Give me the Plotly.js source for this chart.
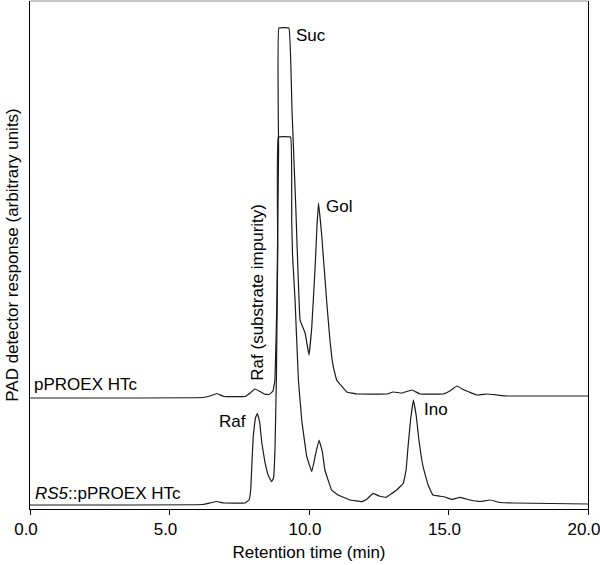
<!DOCTYPE html>
<html>
<head>
<meta charset="utf-8">
<script src="https://cdn.plot.ly/plotly-3.0.1.min.js"></script>
<style>
  html, body { margin: 0; padding: 0; background: #fff; }
  #chromChart { width: 600px; height: 565px; }
</style>
</head>
<body>
<div id="chromChart"></div>
<script>
// pPROEX HTc (empty vector control), response
const ctrlTime = [0, 6.20, 6.45, 6.70, 6.95, 7.71, 7.89, 8.06, 8.21, 8.39, 8.57, 8.71, 8.78, 8.85, 8.91, 8.92,
    9.28, 9.39, 9.53, 9.68, 9.86, 10.00, 10.10, 10.22, 10.28, 10.34, 10.45, 10.63, 10.75, 10.87, 10.99,
    11.36, 11.72, 12.80, 13.01, 13.33, 13.69, 13.98, 14.80, 15.05, 15.30, 15.56, 16.02, 16.38, 16.74, 17.10, 20.0];
const ctrlResp = [21.85, 21.95, 22.24, 22.74, 22.15, 22.15, 22.83, 23.62, 23.23, 22.64, 22.54, 23.23, 25.39, 41.14, 70.67, 94.69,
    94.69, 78.54, 58.86, 37.20, 34.65, 30.31, 35.89, 47.70, 54.92, 60.24, 54.27, 41.14, 33.27, 28.01, 25.39,
    23.03, 22.64, 22.64, 23.03, 22.83, 23.43, 22.64, 22.64, 23.23, 24.21, 23.43, 22.44, 22.64, 22.44, 22.24, 22.24];

// RS5::pPROEX HTc
const rs5Time = [0, 6.20, 6.45, 6.70, 6.95, 7.71, 7.85, 7.91, 7.96, 8.00, 8.08, 8.15, 8.23, 8.31, 8.42, 8.55, 8.66, 8.73,
    8.78, 8.83, 8.88, 8.90, 9.34, 9.38, 9.41, 9.50, 9.62, 9.74, 9.92, 10.10, 10.23, 10.36, 10.48, 10.57, 10.81,
    11.04, 11.47, 11.89, 12.08, 12.30, 12.51, 12.76, 13.14, 13.38, 13.48, 13.55, 13.64, 13.74, 13.84, 13.94,
    14.09, 14.27, 14.44, 14.87, 15.13, 15.41, 15.77, 16.13, 16.49, 16.85, 17.31, 20.0];
const rs5Resp = [0.79, 0.89, 1.18, 1.48, 1.18, 1.18, 1.77, 3.74, 9.65, 14.23, 17.91, 18.84, 17.13, 12.99, 9.25, 6.50, 5.37, 6.10,
    11.61, 25.39, 50.98, 73.23, 73.23, 56.89, 50.0, 41.14, 25.39, 17.52, 10.30, 7.34, 10.63, 13.58, 11.22, 7.68, 3.74,
    2.76, 1.77, 1.44, 1.97, 3.09, 2.56, 2.30, 3.74, 5.06, 7.68, 12.26, 17.52, 21.46, 18.50, 13.58,
    8.27, 4.72, 2.76, 2.36, 1.87, 2.30, 1.77, 1.48, 1.77, 1.28, 1.18, 0.98];

const xTicks = [0, 5, 10, 15, 20];

const FONT = 'Liberation Sans, Arial, sans-serif';
const lineStyle = { color: '#1a1a1a', width: 1.2, shape: 'spline', smoothing: 0.2 };

let traces = [
    { x: ctrlTime, y: ctrlResp, name: 'pPROEX HTc', type: 'scatter', mode: 'lines', line: lineStyle },
    { x: rs5Time, y: rs5Resp, name: 'RS5::pPROEX HTc', type: 'scatter', mode: 'lines', line: lineStyle }
];

function label(text, x, y, anchor, angle) {
    return {
        x: x, y: y, text: text, showarrow: false,
        xanchor: anchor, yanchor: 'middle', textangle: angle || 0,
        font: { family: FONT, size: 17, color: '#000' }
    };
}

let annotations = [
    label('Suc', 9.47, 93.3, 'left'),
    label('Gol', 10.52, 59.6, 'left'),
    label('Ino', 14.04, 19.6, 'left'),
    label('Raf', 7.80, 17.3, 'right'),
    label('Raf (substrate impurity)', 8.14, 42.6, 'center', -90),
    label('pPROEX HTc', 0.08, 24.6, 'left'),
    label('<i>RS5</i>::pPROEX HTc', 0.12, 3.15, 'left')
];

let layout = {
    width: 600,
    height: 565,
    margin: { l: 30, r: 12, t: 1, b: 56 },
    paper_bgcolor: '#fff',
    plot_bgcolor: '#fff',
    showlegend: false,
    font: { family: FONT, size: 17, color: '#000' },
    xaxis: {
        range: [0, 20],
        tickvals: xTicks,
        tickformat: '.1f',
        ticks: 'outside',
        ticklen: 5,
        tickcolor: '#000',
        ticklabeloverflow: 'allow',
        ticklabelshift: -4,
        showgrid: false,
        zeroline: false,
        showline: true,
        linecolor: '#000',
        linewidth: 1,
        tickfont: { family: FONT, size: 17, color: '#000' },
        title: { text: 'Retention time (min)', font: { family: FONT, size: 17, color: '#000' }, standoff: 7 }
    },
    yaxis: {
        range: [0, 100],
        showticklabels: false,
        ticks: '',
        showgrid: false,
        zeroline: false,
        showline: true,
        mirror: true,
        linecolor: '#000',
        linewidth: 1,
        title: { text: 'PAD detector response (arbitrary units)', font: { family: FONT, size: 17, color: '#000' }, standoff: 6 }
    },
    shapes: [
        { type: 'line', xref: 'paper', yref: 'paper', x0: 0, x1: 1, y0: 1, y1: 1, line: { color: '#8a8a8a', width: 1 } }
    ],
    annotations: annotations
};

Plotly.newPlot('chromChart', traces, layout, { displayModeBar: false, staticPlot: true });
</script>
</body>
</html>
